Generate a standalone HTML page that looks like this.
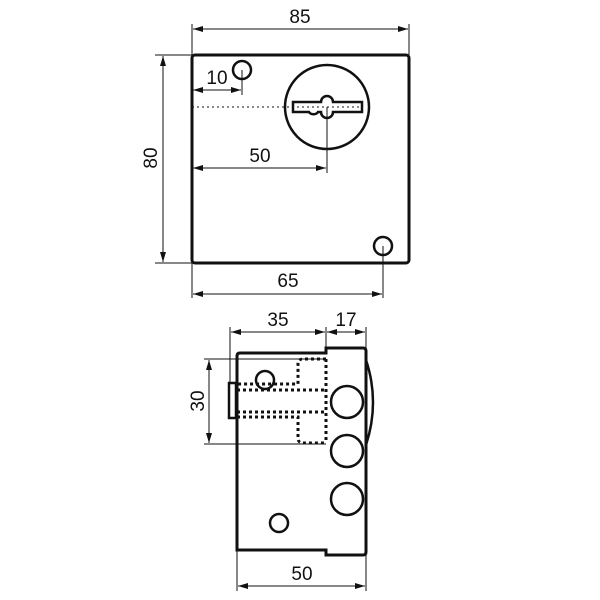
<!DOCTYPE html>
<html><head><style>
html,body{margin:0;padding:0;background:#fff;width:600px;height:600px;overflow:hidden}
text{font-family:"Liberation Sans",Arial,sans-serif;font-size:19px;fill:#111}
</style></head><body>
<svg width="600" height="600" viewBox="0 0 600 600" xmlns="http://www.w3.org/2000/svg">
<defs>
<marker id="a" viewBox="0 0 10 6" refX="10" refY="3" markerWidth="10" markerHeight="6" orient="auto-start-reverse" markerUnits="userSpaceOnUse"><path d="M0,0 L10,3 L0,6 z" fill="#111"/></marker>
</defs>
<g stroke="#111" fill="none">
<rect x="192" y="55" width="217" height="208" rx="3" stroke-width="3"/>
<circle cx="242" cy="70" r="9" stroke-width="2.5"/>
<circle cx="327" cy="107" r="42" stroke-width="2.5"/>
<path d="M293,102 H321 A6,6 0 0 1 333,102 H362 V112 H333 A6,6 0 0 1 321,112 H318 A5,4 0 0 1 309,112 H293 Z" stroke-width="2.5" fill="#fff"/>
<line x1="192" y1="107" x2="360" y2="107" stroke-width="1" stroke-dasharray="2,3"/>
<circle cx="383" cy="246" r="9" stroke-width="2.5"/>
<g stroke-width="1">
<line x1="192" y1="24" x2="192" y2="55"/><line x1="409" y1="24" x2="409" y2="55"/>
<line x1="193" y1="29" x2="408" y2="29" marker-start="url(#a)" marker-end="url(#a)"/>
<line x1="155" y1="55" x2="192" y2="55"/><line x1="155" y1="263" x2="192" y2="263"/>
<line x1="163" y1="56" x2="163" y2="262" marker-start="url(#a)" marker-end="url(#a)"/>
<line x1="242" y1="70" x2="242" y2="95"/>
<line x1="193" y1="90" x2="241" y2="90" marker-start="url(#a)" marker-end="url(#a)"/>
<line x1="327" y1="107" x2="327" y2="173"/>
<line x1="193" y1="168" x2="326" y2="168" marker-start="url(#a)" marker-end="url(#a)"/>
<line x1="383" y1="246" x2="383" y2="298"/><line x1="192" y1="263" x2="192" y2="298"/>
<line x1="193" y1="294" x2="382" y2="294" marker-start="url(#a)" marker-end="url(#a)"/>
</g>
<path d="M326,353 H240 Q237,353 237,356 V550 H326 V555 H363 Q366,555 366,552 V351 Q366,348 363,348 H326 Z" stroke-width="3"/>
<path d="M366,360 Q380,402 366,445" stroke-width="2.5"/>
<rect x="229" y="383" width="7" height="35" stroke-width="2.5"/>
<circle cx="265" cy="380" r="9" stroke-width="2.5"/>
<circle cx="347" cy="402" r="16" stroke-width="2.5"/>
<circle cx="347" cy="451" r="16" stroke-width="2.5"/>
<circle cx="347" cy="499" r="16" stroke-width="2.5"/>
<circle cx="279" cy="523" r="9" stroke-width="2.5"/>
<g stroke-width="3" stroke-dasharray="3,3">
<path d="M326,359 H303 Q298,359 298,364 V384 H237"/>
<path d="M237,390 H326"/><path d="M237,412 H326"/>
<path d="M237,417 H298 V438 Q298,443 303,443 H326"/>
<path d="M326,359 V443"/>
</g>
<g stroke-width="1">
<line x1="230" y1="327" x2="230" y2="383"/><line x1="326" y1="327" x2="326" y2="353"/><line x1="366" y1="327" x2="366" y2="348"/>
<line x1="231" y1="332" x2="325" y2="332" marker-start="url(#a)" marker-end="url(#a)"/>
<line x1="327" y1="332" x2="365" y2="332" marker-start="url(#a)" marker-end="url(#a)"/>
<line x1="204" y1="359" x2="326" y2="359"/><line x1="204" y1="444" x2="326" y2="444"/>
<line x1="209" y1="360" x2="209" y2="443" marker-start="url(#a)" marker-end="url(#a)"/>
<line x1="237" y1="550" x2="237" y2="591"/><line x1="366" y1="555" x2="366" y2="591"/>
<line x1="238" y1="586" x2="365" y2="586" marker-start="url(#a)" marker-end="url(#a)"/>
</g>
</g>
<text x="300" y="23" text-anchor="middle">85</text>
<text x="217" y="84" text-anchor="middle">10</text>
<text x="260" y="162" text-anchor="middle">50</text>
<text x="288" y="287" text-anchor="middle">65</text>
<text transform="translate(157,158) rotate(-90)" text-anchor="middle">80</text>
<text x="278" y="326" text-anchor="middle">35</text>
<text x="346" y="326" text-anchor="middle">17</text>
<text transform="translate(204,401) rotate(-90)" text-anchor="middle">30</text>
<text x="302" y="580" text-anchor="middle">50</text>
</svg>
</body></html>
